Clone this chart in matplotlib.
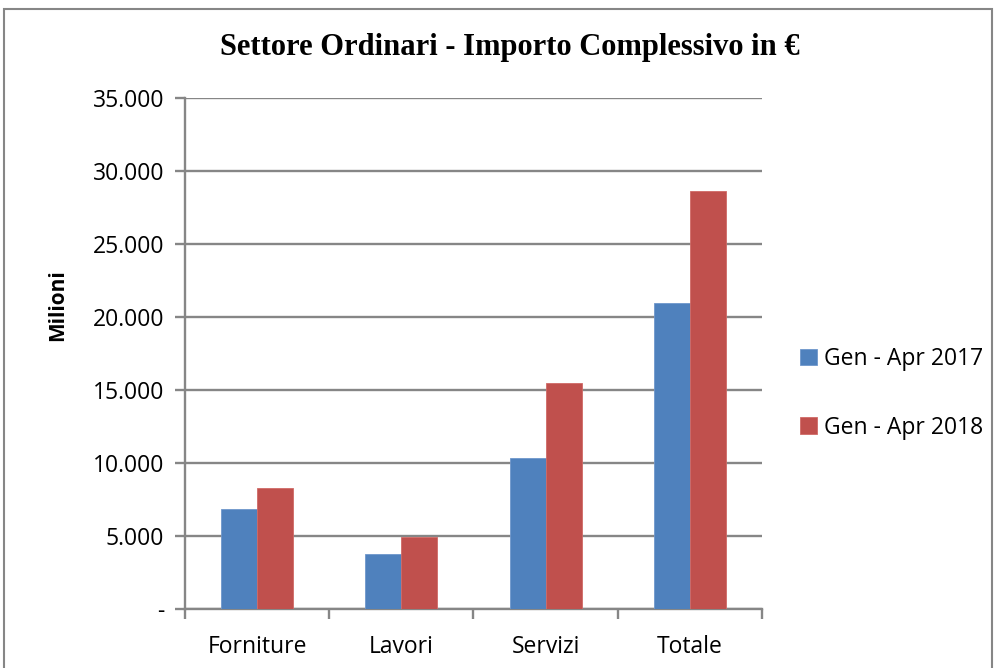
import matplotlib
matplotlib.use("Agg")
import matplotlib.pyplot as plt
import numpy as np
from matplotlib.patches import Rectangle
from matplotlib.ticker import FixedLocator

categories = ["Forniture", "Lavori", "Servizi", "Totale"]
series_names = ["Gen - Apr 2017", "Gen - Apr 2018"]
values_2017 = [6850, 3740, 10320, 20940]
values_2018 = [8290, 4910, 15460, 28650]
y_ticks = [0, 5000, 10000, 15000, 20000, 25000, 30000, 35000]
y_tick_labels = ["-", "5.000", "10.000", "15.000", "20.000", "25.000", "30.000", "35.000"]

blue = "#4f81bd"
red = "#c0504d"
grey = "#868686"
sans = ["Open Sans", "DejaVu Sans"]
fs = 16.5

fig = plt.figure(figsize=(9.99, 6.68), dpi=100)
# outer chart border
fig.patches.append(Rectangle((0.004, -0.02), 0.989, 1.007, transform=fig.transFigure,
                             fill=False, edgecolor=grey, linewidth=1.5))

ax = fig.add_axes([185 / 999, 1 - 609 / 668, (762 - 185) / 999, (609 - 98) / 668])

x = np.arange(len(categories))
w = 0.25
ax.bar(x - w / 2, values_2017, w, color=blue, edgecolor="#6f97cc", linewidth=0.6,
       label=series_names[0], zorder=3)
ax.bar(x + w / 2, values_2018, w, color=red, edgecolor="#d06a66", linewidth=0.6,
       label=series_names[1], zorder=3)

ax.set_xlim(-0.5, 3.5)
ax.set_ylim(0, 35000)
ax.set_yticks(y_ticks)
ax.set_yticklabels(y_tick_labels, fontsize=fs, family=sans)
ax.yaxis.grid(True, color=grey, linewidth=1.7, zorder=0)

ax.set_xticks(x)
ax.set_xticklabels(categories, fontsize=fs, family=sans)
ax.xaxis.set_minor_locator(FixedLocator([-0.5, 0.5, 1.5, 2.5, 3.5]))
ax.tick_params(axis="x", which="major", length=0, pad=19)
ax.tick_params(axis="x", which="minor", length=7, width=1.7, color=grey)
ax.tick_params(axis="y", length=7, width=1.7, color=grey, pad=8)

for side in ["top", "right"]:
    ax.spines[side].set_visible(False)
for side in ["left", "bottom"]:
    ax.spines[side].set_color(grey)
    ax.spines[side].set_linewidth(1.7)

ax.set_ylabel("Milioni", fontsize=15, fontweight="bold", family=sans)
ax.yaxis.set_label_coords(-0.203, 0.595)

fig.text(510 / 999, 1 - 47 / 668, "Settore Ordinari - Importo Complessivo in €",
         ha="center", va="center", fontsize=22, fontweight="bold", family="Liberation Serif")

leg = ax.legend(loc="center left", bbox_to_anchor=(1.03, 0.422), frameon=False,
                prop={"family": sans, "size": fs},
                handlelength=0.75, handleheight=0.75, handletextpad=0.3, labelspacing=1.95)

fig.savefig("out.png", dpi=100)
